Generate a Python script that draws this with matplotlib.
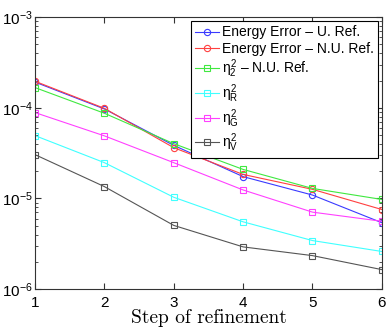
import matplotlib
matplotlib.use('Agg')
import matplotlib.pyplot as plt

plt.rcParams['font.family'] = ['Liberation Sans', 'DejaVu Sans']
plt.rcParams['mathtext.fontset'] = 'custom'
plt.rcParams['mathtext.rm'] = 'Liberation Sans'
plt.rcParams['mathtext.it'] = 'Liberation Sans'
plt.rcParams['mathtext.bf'] = 'Liberation Sans:bold'

# data
steps = [1, 2, 3, 4, 5, 6]
energy_u = [1.92e-4, 9.7e-5, 3.85e-5, 1.74e-5, 1.09e-5, 5.4e-6]
energy_nu = [1.96e-4, 9.86e-5, 3.63e-5, 1.84e-5, 1.26e-5, 7.55e-6]
eta2_nu = [1.67e-4, 8.7e-5, 4.02e-5, 2.09e-5, 1.29e-5, 9.75e-6]
eta_r = [4.93e-5, 2.48e-5, 1.03e-5, 5.52e-6, 3.43e-6, 2.6e-6]
eta_g = [8.85e-5, 4.9e-5, 2.48e-5, 1.24e-5, 7.06e-6, 5.6e-6]
eta_v = [3.04e-5, 1.35e-5, 5.04e-6, 2.92e-6, 2.34e-6, 1.64e-6]

labels = ['Energy Error \u2013 U. Ref.', 'Energy Error \u2013 N.U. Ref.',
          '$\\eta_2^2$ \u2013 N.U. Ref.',
          r'$\eta_R^2$', r'$\eta_G^2$', r'$\eta_V^2$']

fig = plt.figure(figsize=(3.9, 3.3), dpi=100)
ax = fig.add_axes([0.09, 0.124, 0.889, 0.824])

series = [energy_u, energy_nu, eta2_nu, eta_r, eta_g, eta_v]
colors = ['#3a3aff', '#ff4040', '#40e840', '#40ffff', '#ff40ff', '#555555']
markers = ['o', 'o', 's', 's', 's', 's']
for vals, c, m, lab in zip(series, colors, markers, labels):
    ax.semilogy(steps, vals, color=c, marker=m, markersize=4.5 if m == 'o' else 4,
                markerfacecolor='none', markeredgecolor=c, markeredgewidth=0.8,
                linewidth=0.8, label=lab)

ax.set_xlim(1, 6)
ax.set_ylim(1e-6, 1e-3)
ax.set_xticks(steps)
ax.tick_params(which='both', direction='in', top=True, right=True, labelsize=11,
               color='#333333')
ax.tick_params(axis='y', pad=1.5)
ax.tick_params(axis='x', pad=5)
ax.tick_params(which='major', length=4)
ax.tick_params(which='minor', length=2)
ax.set_xlabel('Step of refinement', fontfamily='cmr10', fontsize=14, labelpad=-1)
for s in ax.spines.values():
    s.set_linewidth(0.8)
    s.set_color('#333333')

leg = ax.legend(loc='upper right', fontsize=10, frameon=True, fancybox=False,
                edgecolor='black', framealpha=1, handlelength=1.7, handletextpad=0.2,
                borderpad=0.3, labelspacing=0.15, borderaxespad=0.3)
leg.get_frame().set_linewidth(0.8)

fig.savefig('out.png', dpi=100)
